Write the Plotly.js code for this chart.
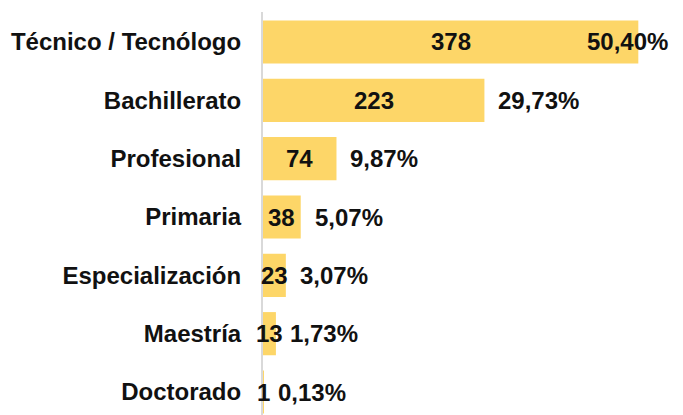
<!DOCTYPE html>
<html>
<head>
<meta charset="utf-8">
<script src="https://cdn.plot.ly/plotly-3.0.1.min.js"></script>
<style>html,body{margin:0;padding:0;background:#fff;}#chart{width:683px;height:415px;}</style>
</head>
<body>
<div id="chart"></div>
<script>
const categories = ["Doctorado", "Maestría", "Especialización", "Primaria", "Profesional", "Bachillerato", "Técnico / Tecnólogo"];
const counts = [1, 13, 23, 38, 74, 223, 378];
const percentLabels = ["0,13%", "1,73%", "3,07%", "5,07%", "9,87%", "29,73%", "50,40%"];

const FONT = "Liberation Sans, Arial, sans-serif";
const maxCount = Math.max(...counts);

const annotations = [];
counts.forEach((v, i) => {
  annotations.push({
    x: v / 2, y: categories[i], xref: "x", yref: "y",
    text: "<b>" + v + "</b>", showarrow: false, xanchor: "center", yanchor: "middle",
    font: {family: FONT, size: 24, color: "#111"}
  });
  const isMax = v === maxCount;
  annotations.push({
    x: v, y: categories[i], xref: "x", yref: "y",
    text: "<b>" + percentLabels[i] + "</b>", showarrow: false,
    xanchor: isMax ? "right" : "left", xshift: isMax ? 32 : 12, yanchor: "middle",
    font: {family: FONT, size: 24, color: "#111"}
  });
});

const trace = {
  type: "bar", orientation: "h",
  x: counts, y: categories,
  marker: {color: "#FDD668"},
  width: 0.74,
  hoverinfo: "none",
  cliponaxis: false
};

const layout = {
  width: 683, height: 415,
  margin: {l: 263, r: 0, t: 12, b: 0, pad: 0},
  paper_bgcolor: "#fff", plot_bgcolor: "#fff",
  showlegend: false,
  xaxis: {range: [0, 423], visible: false, fixedrange: true},
  yaxis: {
    type: "category", range: [-0.394, 6.514],
    showline: true, linecolor: "#D9D9D9", linewidth: 2,
    showgrid: false, zeroline: false,
    ticks: "", ticklabelstandoff: 15,
    tickfont: {family: FONT, size: 24, color: "#111", weight: "bold"}
  },
  annotations: annotations
};

Plotly.newPlot("chart", [trace], layout, {staticPlot: true, displayModeBar: false});
</script>
</body>
</html>
